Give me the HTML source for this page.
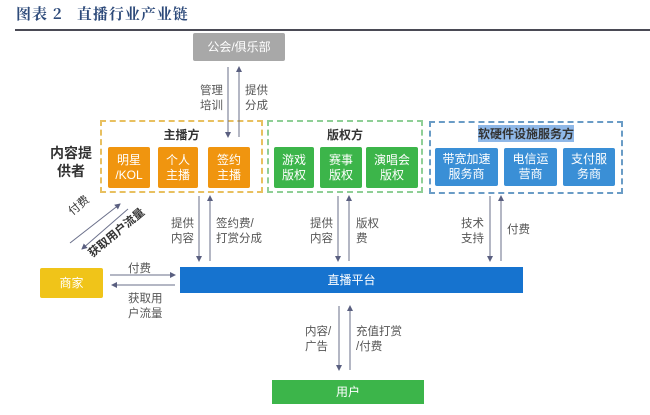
<!DOCTYPE html>
<html><head><meta charset="utf-8"><style>
body{margin:0;width:650px;height:415px;background:#fff;position:relative;overflow:hidden;font-family:"Liberation Sans","Noto Sans CJK SC",sans-serif;}
.a{position:absolute;}
.box{position:absolute;color:#fff;font-size:12px;line-height:15px;display:flex;align-items:center;justify-content:center;text-align:center;border-radius:2px;}
.o{background:#f0950f;}
.g{background:#3cb54a;}
.b{background:#3a8fd6;}
.lbl{position:absolute;font-size:11.5px;line-height:15px;color:#555;}
.dash{position:absolute;border:2px dashed;}
.t{position:absolute;font-size:12px;font-weight:bold;color:#333;text-align:center;}
</style></head><body>
<div class="a" style="left:16px;top:3px;font-family:'Noto Serif CJK SC',serif;font-weight:bold;font-size:15px;color:#2d4a7a;letter-spacing:1px">图表 2&nbsp;&nbsp;&nbsp;直播行业产业链</div>
<div class="a" style="left:15px;top:29px;width:635px;height:2px;background:#4a4a55"></div>
<div class="box" style="left:193px;top:33px;width:92px;height:28px;background:#a8a8a8;">公会/俱乐部</div>

<div class="dash" style="left:100px;top:120px;width:159px;height:69px;border-color:#e8c060"></div>
<div class="dash" style="left:267px;top:120px;width:152px;height:69px;border-color:#8fcf96"></div>
<div class="dash" style="left:429px;top:121px;width:190px;height:69px;border-color:#6a9cc6"></div>
<div class="t" style="left:100px;top:126px;width:163px">主播方</div>
<div class="t" style="left:267px;top:126px;width:156px">版权方</div>
<div class="t" style="left:478px;top:125px;width:96px;background:#8fb8e8;">软硬件设施服务方</div>

<div class="box o" style="left:108px;top:147px;width:42px;height:41px">明星<br>/KOL</div>
<div class="box o" style="left:158px;top:147px;width:40px;height:41px">个人<br>主播</div>
<div class="box o" style="left:208px;top:147px;width:42px;height:41px">签约<br>主播</div>
<div class="box g" style="left:274px;top:147px;width:40px;height:41px">游戏<br>版权</div>
<div class="box g" style="left:320px;top:147px;width:42px;height:41px">赛事<br>版权</div>
<div class="box g" style="left:366px;top:147px;width:52px;height:41px">演唱会<br>版权</div>
<div class="box b" style="left:435px;top:148px;width:63px;height:38px">带宽加速<br>服务商</div>
<div class="box b" style="left:504px;top:148px;width:53px;height:38px">电信运<br>营商</div>
<div class="box b" style="left:563px;top:148px;width:52px;height:38px">支付服<br>务商</div>

<div class="a" style="left:50px;top:144px;font-size:14px;font-weight:bold;color:#333;line-height:18px;text-align:center">内容提<br>供者</div>

<div class="box" style="left:40px;top:268px;width:63px;height:30px;background:#f0c419">商家</div>
<div class="box" style="left:180px;top:267px;width:343px;height:26px;background:#1673cf;border-radius:0">直播平台</div>
<div class="box" style="left:272px;top:380px;width:152px;height:24px;background:#3cb54a;border-radius:0">用户</div>

<svg class="a" style="left:0;top:0" width="650" height="415">
<defs><marker id="m" markerWidth="6" markerHeight="6" refX="5" refY="3" orient="auto"><path d="M0,0L6,3L0,6z" fill="#5a5f80"/></marker></defs>
<g stroke="#6a6f8a" stroke-width="1" marker-end="url(#m)">
<line x1="228" y1="67" x2="228" y2="137"/>
<line x1="239" y1="137" x2="239" y2="67"/>
<line x1="199" y1="196" x2="199" y2="261"/>
<line x1="210" y1="261" x2="210" y2="196"/>
<line x1="338" y1="196" x2="338" y2="261"/>
<line x1="349" y1="261" x2="349" y2="196"/>
<line x1="490" y1="196" x2="490" y2="261"/>
<line x1="501" y1="261" x2="501" y2="196"/>
<line x1="339" y1="306" x2="339" y2="370"/>
<line x1="350" y1="370" x2="350" y2="306"/>
<line x1="110" y1="275" x2="175" y2="275"/>
<line x1="175" y1="285" x2="112" y2="285"/>
<line x1="70" y1="243" x2="120" y2="204"/>
<line x1="128" y1="209" x2="82" y2="249"/>
</g></svg>

<div class="lbl" style="left:200px;top:84px">管理<br>培训</div>
<div class="lbl" style="left:245px;top:84px">提供<br>分成</div>
<div class="lbl" style="left:171px;top:217px">提供<br>内容</div>
<div class="lbl" style="left:216px;top:217px">签约费/<br>打赏分成</div>
<div class="lbl" style="left:310px;top:217px">提供<br>内容</div>
<div class="lbl" style="left:356px;top:217px">版权<br>费</div>
<div class="lbl" style="left:461px;top:217px">技术<br>支持</div>
<div class="lbl" style="left:507px;top:223px">付费</div>
<div class="lbl" style="left:305px;top:325px">内容/<br>广告</div>
<div class="lbl" style="left:356px;top:325px">充值打赏<br>/付费</div>
<div class="lbl" style="left:128px;top:262px">付费</div>
<div class="lbl" style="left:128px;top:292px">获取用<br>户流量</div>
<div class="lbl" style="left:66px;top:208px;transform:rotate(-40deg);transform-origin:left top;color:#333">付费</div>
<div class="lbl" style="left:86px;top:250px;transform:rotate(-40deg);transform-origin:left top;color:#333;font-weight:bold">获取用户流量</div>
</body></html>
